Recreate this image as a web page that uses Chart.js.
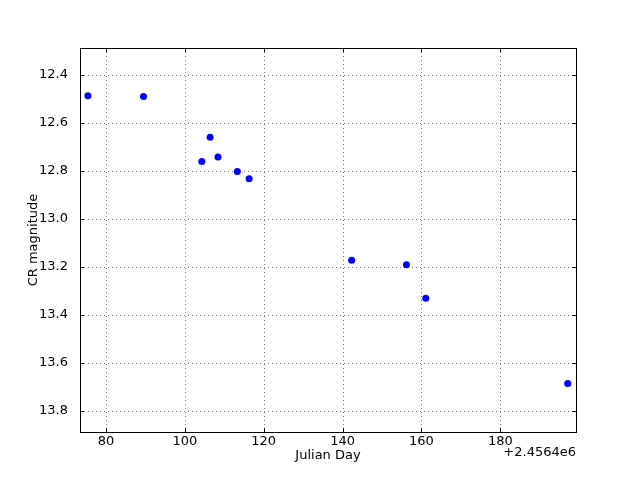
<!DOCTYPE html>
<html>
<head>
<meta charset="utf-8">
<script src="https://cdn.jsdelivr.net/npm/chart.js@4"></script>
<style>
  html, body { margin: 0; padding: 0; background: #fff; }
  #wrap { width: 640px; height: 480px; }
</style>
</head>
<body>
<div id="wrap"><canvas id="c" width="640" height="480"></canvas></div>
<script>
// Julian Day minus offset
const jdOffsetLabel = "+2.4564e6";
const julianDay = [75.4, 89.5, 104.3, 106.4, 108.4, 113.3, 116.3, 142.3, 156.2, 161.1, 197.1];
const crMagnitude = [12.486, 12.490, 12.760, 12.659, 12.742, 12.802, 12.832, 13.172, 13.191, 13.330, 13.685];
const xTicks = [80, 100, 120, 140, 160, 180];
const yTicks = [12.4, 12.6, 12.8, 13.0, 13.2, 13.4, 13.6, 13.8];
const xLimits = [73.4, 199.2];
const yLimits = [12.2875, 13.8875];

const points = julianDay.map((x, i) => ({ x: x, y: crMagnitude[i] }));
const FONT = "'DejaVu Sans', sans-serif";

const framePlugin = {
  id: 'frame',
  beforeDatasetsDraw(chart) {
    const ctx = chart.ctx, a = chart.chartArea;
    const xs = chart.scales.x, ys = chart.scales.y;
    ctx.save();
    ctx.strokeStyle = '#777';
    ctx.lineWidth = 1;
    ctx.setLineDash([1, 3]);
    xTicks.forEach(v => {
      const px = Math.round(xs.getPixelForValue(v)) + 0.5;
      ctx.beginPath(); ctx.moveTo(px, a.top); ctx.lineTo(px, a.bottom); ctx.stroke();
    });
    yTicks.forEach(v => {
      const py = Math.round(ys.getPixelForValue(v)) + 0.5;
      ctx.beginPath(); ctx.moveTo(a.left, py); ctx.lineTo(a.right, py); ctx.stroke();
    });
    ctx.restore();
  },
  afterDatasetsDraw(chart) {
    const ctx = chart.ctx, a = chart.chartArea;
    const xs = chart.scales.x, ys = chart.scales.y;
    ctx.save();
    ctx.strokeStyle = '#000';
    ctx.lineWidth = 1;
    ctx.setLineDash([]);
    const L = 4;
    xTicks.forEach(v => {
      const px = Math.round(xs.getPixelForValue(v)) + 0.5;
      ctx.beginPath();
      ctx.moveTo(px, a.bottom); ctx.lineTo(px, a.bottom - L);
      ctx.moveTo(px, a.top); ctx.lineTo(px, a.top + L);
      ctx.stroke();
    });
    yTicks.forEach(v => {
      const py = Math.round(ys.getPixelForValue(v)) + 0.5;
      ctx.beginPath();
      ctx.moveTo(a.left, py); ctx.lineTo(a.left + L, py);
      ctx.moveTo(a.right, py); ctx.lineTo(a.right - L, py);
      ctx.stroke();
    });
    ctx.strokeRect(Math.round(a.left) + 0.5, Math.round(a.top) + 0.5,
                   Math.round(a.right - a.left), Math.round(a.bottom - a.top));
    ctx.fillStyle = '#000';
    ctx.font = "13px " + FONT;
    ctx.textAlign = 'right';
    ctx.textBaseline = 'middle';
    ctx.fillText(jdOffsetLabel, a.right, 453);
    ctx.restore();
  }
};

new Chart(document.getElementById('c'), {
  type: 'scatter',
  data: {
    datasets: [{
      data: points,
      backgroundColor: '#0000ff',
      borderColor: '#0000ff',
      pointRadius: 3.5,
      pointHoverRadius: 3.5,
      borderWidth: 0
    }]
  },
  options: {
    responsive: false,
    animation: false,
    devicePixelRatio: 1,
    layout: { padding: { top: 48, right: 64, left: 0, bottom: 0 } },
    plugins: { legend: { display: false }, tooltip: { enabled: false } },
    scales: {
      x: {
        type: 'linear',
        min: xLimits[0], max: xLimits[1],
        afterBuildTicks: s => { s.ticks = xTicks.map(v => ({ value: v })); },
        afterFit: s => { s.height = 48; },
        grid: { display: false, drawTicks: false },
        border: { display: false },
        ticks: { color: '#000', font: { family: FONT, size: 13 }, padding: 2, maxRotation: 0,
                 callback: v => String(v) },
        title: { display: true, text: 'Julian Day', color: '#000',
                 font: { family: FONT, size: 13 }, padding: { top: 0, bottom: 17 } }
      },
      y: {
        type: 'linear',
        reverse: true,
        min: yLimits[0], max: yLimits[1],
        afterBuildTicks: s => { s.ticks = yTicks.map(v => ({ value: v })); },
        afterFit: s => { s.width = 80; },
        grid: { display: false, drawTicks: false },
        border: { display: false },
        ticks: { color: '#000', font: { family: FONT, size: 13 }, padding: 12,
                 callback: v => v.toFixed(1) },
        title: { display: true, text: 'CR magnitude', color: '#000',
                 font: { family: FONT, size: 13 }, padding: { top: 26, bottom: 0 } }
      }
    }
  },
  plugins: [framePlugin]
});
</script>
</body>
</html>
